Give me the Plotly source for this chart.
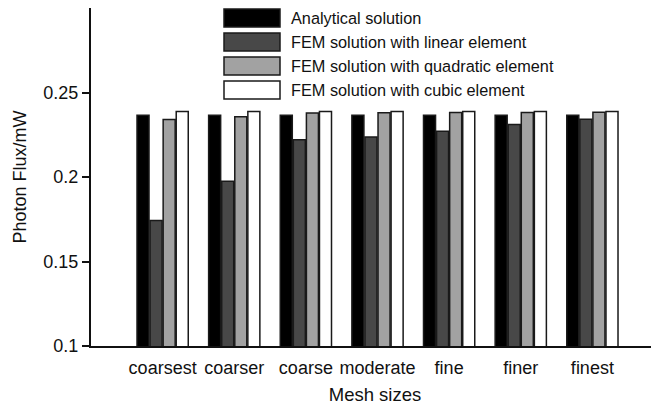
import plotly.graph_objects as go

categories = ["coarsest", "coarser", "coarse", "moderate", "fine", "finer", "finest"]
series_names = [
    "Analytical solution",
    "FEM solution with linear element",
    "FEM solution with quadratic element",
    "FEM solution with cubic element",
]
analytical = [0.2365, 0.2365, 0.2365, 0.2365, 0.2365, 0.2365, 0.2365]
linear = [0.1743, 0.1975, 0.2220, 0.2237, 0.2270, 0.2310, 0.2342]
quadratic = [0.2340, 0.2356, 0.2378, 0.2380, 0.2381, 0.2382, 0.2383]
cubic = [0.2388, 0.2388, 0.2388, 0.2388, 0.2388, 0.2388, 0.2388]
y_ticks = [0.1, 0.15, 0.2, 0.25]
y_tick_text = ["0.1", "0.15", "0.2", "0.25"]

colors = ["#000000", "#484848", "#a2a2a2", "#ffffff"]
values = [analytical, linear, quadratic, cubic]

FONT = "Liberation Sans, Arial, Helvetica, sans-serif"

# page body has an 8px margin; the figure is sized/placed to compensate
OFF = 8
W, H = 651, 401
ML, MR, MT, MB = 83, 0, 0, 63
PW, PH = W - ML - MR, H - MT - MB
X0 = OFF + ML          # pixel x of plot-area left edge
YB = OFF + H - MB      # pixel y of plot-area bottom edge

fig = go.Figure()
for name, vals, col in zip(series_names, values, colors):
    fig.add_trace(go.Bar(
        x=categories, y=vals, name=name,
        marker=dict(color=col, line=dict(color="#1a1a1a", width=1.5)),
        showlegend=False,
    ))

# custom legend (large swatches like the original)
leg_x0, leg_x1 = 224, 280
row_tops = [9, 33, 57, 81]
box_h = 18
shapes = []
annotations = []
for name, col, top in zip(series_names, colors, row_tops):
    shapes.append(dict(
        type="rect", xref="paper", yref="paper",
        x0=(leg_x0 - X0) / PW, x1=(leg_x1 - X0) / PW,
        y0=(YB - (top + box_h)) / PH, y1=(YB - top) / PH,
        fillcolor=col, line=dict(color="#1a1a1a", width=1.5),
    ))
    annotations.append(dict(
        xref="paper", yref="paper",
        x=(289 - X0) / PW, y=(YB - (top + box_h / 2)) / PH,
        text=name, showarrow=False, xanchor="left", yanchor="middle",
        font=dict(family=FONT, size=16.3, color="#111111"),
    ))

fig.update_layout(
    width=W, height=H,
    margin=dict(l=ML, r=MR, t=MT, b=MB, pad=0),
    paper_bgcolor="white", plot_bgcolor="white",
    barmode="group", bargap=0.27, bargroupgap=0.08,
    font=dict(family=FONT, size=18, color="#111111"),
    shapes=shapes, annotations=annotations,
    xaxis=dict(
        range=[-1, 6.93], showgrid=False, zeroline=False, automargin=False,
        showline=True, linecolor="#111111", linewidth=2,
        ticks="", tickfont=dict(size=18), ticklabelstandoff=4,
        title=dict(text="Mesh sizes", font=dict(size=18.5), standoff=11),
    ),
    yaxis=dict(
        range=[0.1, 0.3], showgrid=False, zeroline=False, automargin=False,
        showline=True, linecolor="#111111", linewidth=2,
        ticks="outside", ticklen=7, tickwidth=1.5, tickcolor="#111111",
        tickvals=y_ticks, ticktext=y_tick_text, tickfont=dict(size=18),
        title=dict(text="Photon Flux/mW", font=dict(size=18), standoff=12),
    ),
)

fig.write_html("out.html")
